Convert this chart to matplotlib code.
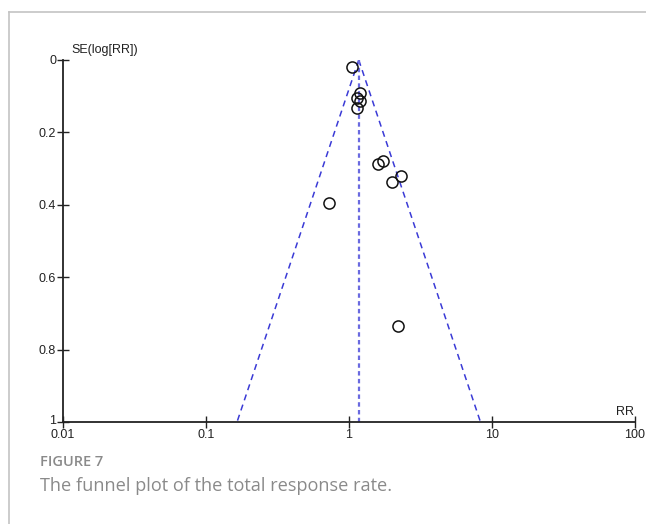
import numpy as np
import matplotlib
matplotlib.use("Agg")
import matplotlib.pyplot as plt
import matplotlib.transforms as mtransforms
from matplotlib.lines import Line2D

# Study data
rr = [1.05, 1.19, 1.14, 1.19, 1.14, 1.73, 1.60, 2.30, 1.99, 0.72, 2.19]
se = [0.02, 0.092, 0.106, 0.113, 0.133, 0.278, 0.286, 0.32, 0.337, 0.395, 0.736]
pooled_rr = 1.17
x_ticks = [0.01, 0.1, 1, 10, 100]
x_tick_labels = ["0.01", "0.1", "1", "10", "100"]
y_ticks = [0, 0.2, 0.4, 0.6, 0.8, 1]
y_tick_labels = ["0", "0.2", "0.4", "0.6", "0.8", "1"]

W, H = 646, 524
fig = plt.figure(figsize=(W / 100, H / 100), dpi=100)
plt.rcParams['font.family'] = ['Liberation Sans', 'DejaVu Sans']

ax = fig.add_axes([63 / W, 1 - 422 / H, (635 - 63) / W, (422 - 60) / H])
ax.set_xscale('log')
ax.set_xlim(0.01, 100)
ax.set_ylim(1, 0)

# funnel
se_line = np.array([0.0, 1.0])
lo = np.exp(np.log(pooled_rr) - 1.96 * se_line)
hi = np.exp(np.log(pooled_rr) + 1.96 * se_line)
ax.plot(lo, se_line, color='#3a3ad6', lw=1.1, ls=(0, (4, 3)))
ax.plot(hi, se_line, color='#3a3ad6', lw=1.1, ls=(0, (4, 3)))
ax.plot([pooled_rr, pooled_rr], [0, 1], color='#6a6ae0', lw=1.6, ls=(0, (2, 1.5)))

ax.plot(rr, se, ls='none', marker='o', ms=8, mfc='none', mec='#111111', mew=1.1)

for s in ['top', 'right']:
    ax.spines[s].set_visible(False)
for s in ['left', 'bottom']:
    ax.spines[s].set_linewidth(1.3)
    ax.spines[s].set_color('#222222')

ax.set_xticks(x_ticks)
ax.set_xticklabels(x_tick_labels)
ax.xaxis.set_minor_locator(matplotlib.ticker.NullLocator())
ax.set_yticks(y_ticks)
ax.set_yticklabels(y_tick_labels)
ax.tick_params(axis='both', direction='inout', length=8, width=1, labelsize=9,
               colors='#222222', pad=1)
ax.tick_params(axis='x', pad=1)

# nudge the "1" label up slightly so it doesn't collide with "0.01"
last = ax.get_yticklabels()[-1]
last.set_transform(last.get_transform() +
                   mtransforms.ScaledTranslation(0, 2 / 72, fig.dpi_scale_trans))

ax.text(0.0115, -0.01, "SE(log[RR])", fontsize=9, ha='left', va='bottom', color='#222222')
ax.text(98, 0.99, "RR", fontsize=9, ha='right', va='bottom', color='#222222')

# border lines
fig.add_artist(Line2D([9 / W, 1], [1 - 12 / H, 1 - 12 / H], color='#c4c4c4', lw=1.2))
fig.add_artist(Line2D([9 / W, 9 / W], [0, 1 - 12 / H], color='#c4c4c4', lw=1.2))

fig.text(40 / W, 1 - 462 / H, "FIGURE 7", fontsize=10.5, color='#8a8a8a',
         family=['Open Sans', 'DejaVu Sans'], weight='semibold', va='center')
fig.text(40 / W, 1 - 486 / H, "The funnel plot of the total response rate.", fontsize=13.1,
         color='#8a8a8a', family=['Open Sans', 'DejaVu Sans'], va='center')

fig.savefig("out.png", dpi=100)
